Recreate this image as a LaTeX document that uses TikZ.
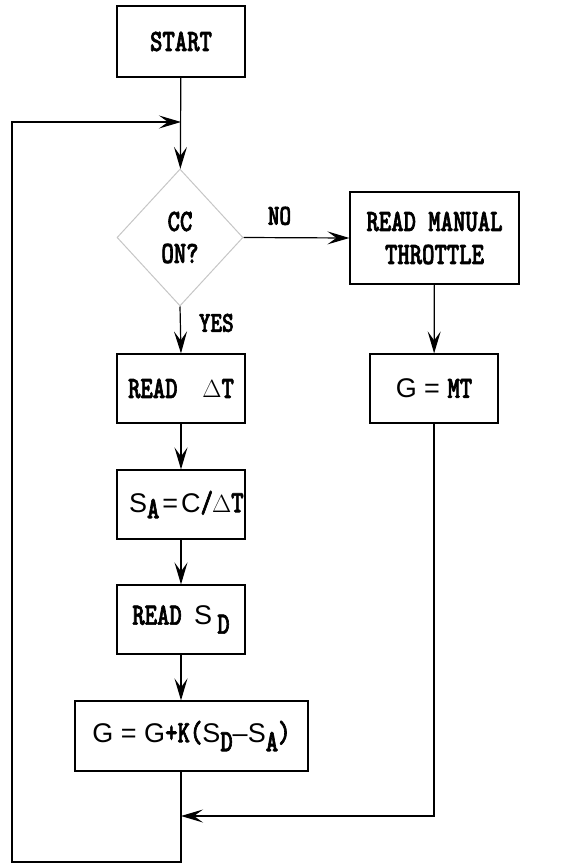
\documentclass[tikz,border=0pt]{standalone}
\usepackage{fontspec}
\usepackage{tikz}
\usetikzlibrary{shapes.geometric,arrows.meta,positioning}
\newfontfamily\flowfont[FakeStretch=0.76,FakeBold=2]{lmmonolt10-bold.otf}
\newfontfamily\flowsans{Liberation Sans}
\newcommand{\subdown}[2]{\raisebox{-#1}{#2}}
\newcommand{\sansbit}[1]{{\flowsans\fontsize{27}{30}\selectfont #1}}

\begin{document}
\begin{tikzpicture}[x=1pt, y=-1pt,
    flowbox/.style={draw, line width=1.2pt, inner sep=0pt, align=center,
        font=\flowfont\fontsize{31}{33}\selectfont},
    flowtest/.style={draw=gray!45, line width=1pt, diamond, inner sep=0pt, align=center,
        minimum width=126pt, minimum height=137pt,
        font=\flowfont\fontsize{31}{32}\selectfont},
    flowline/.style={line width=1.2pt, -{Stealth[length=22pt,width=13pt,inset=9pt]}},
    flowlabel/.style={inner sep=0pt, font=\flowfont\fontsize{29}{26}\selectfont}]
        \useasboundingbox (0,0) rectangle (573,864);

        % Left column
        \node[flowbox, minimum width=128pt, minimum height=71pt] (start) at (181,41.5) {START};
        \node[flowtest] (ccon) at (180,237.5) {CC\\ON?};
        \node[flowbox, minimum width=128pt, minimum height=69pt] (readdt) at (181,388.5) {READ\ \ $\Delta$T};
        \node[flowbox, minimum width=128pt, minimum height=69pt, text width=104pt] (speed) at (181,504.5)
            {\sansbit{S}\subdown{6pt}{A}\sansbit{\kern3pt=\kern3pt C}/\kern-1pt$\Delta$T};
        \node[flowbox, minimum width=128pt, minimum height=69pt] (readsd) at (181,619.5)
            {READ \sansbit{S}\,\subdown{9pt}{D}};
        \node[flowbox, minimum width=233pt, minimum height=70pt] (gain) at (191.5,736)
            {\sansbit{G = G}+K(\sansbit{S}\subdown{9pt}{D}\sansbit{–S}\subdown{9pt}{A})};

        % Right column
        \node[flowbox, minimum width=169pt, minimum height=92pt] (manual) at (434.5,238) {READ MANUAL\\THROTTLE};
        \node[flowbox, minimum width=128pt, minimum height=69pt] (gmt) at (434,388.5) {\sansbit{G = }MT};

        % Loop corners
        \coordinate (loopin) at (181,122);
        \coordinate (merge) at (181,816);

        % Connectors
        \draw[flowline] (start) -- (ccon);
        \draw[flowline] (ccon.east) -- node[flowlabel, pos=0.34, above=12pt] (nolabel) {NO} (manual.west);
        \draw[flowline] (ccon.south) -- node[flowlabel, pos=0.35, right=18pt] (yeslabel) {YES} (readdt.north);
        \draw[flowline] (readdt) -- (speed);
        \draw[flowline] (speed) -- (readsd);
        \draw[flowline] (readsd) -- (readdt.south |- gain.north);
        \draw[flowline] (manual) -- (gmt);
        \draw[flowline] (gmt.south) |- (merge);
        \draw[flowline] (readdt.south |- gain.south) -- (181,862) -| (12,122) -- (loopin);
\end{tikzpicture}
\end{document}
